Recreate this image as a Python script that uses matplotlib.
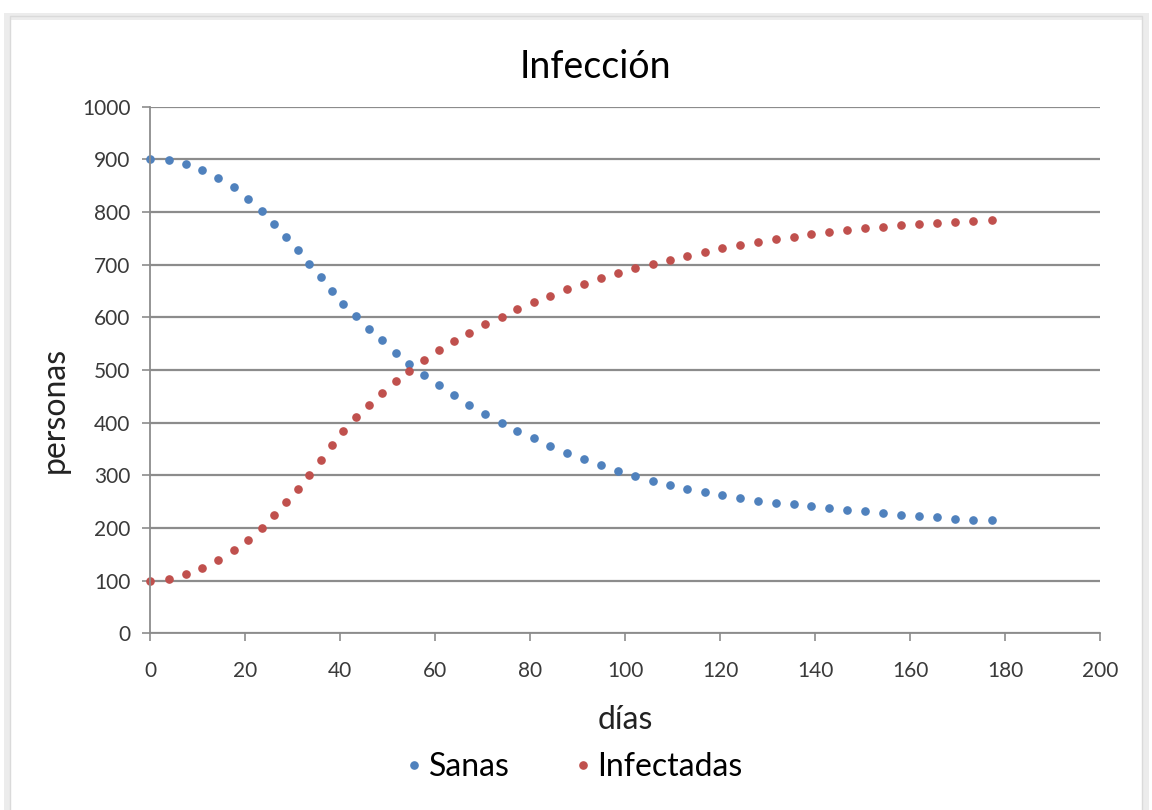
import matplotlib
matplotlib.use("Agg")
from matplotlib import pyplot as plt
from matplotlib.patches import Rectangle

# Data (dias, personas)
dias = [0, 3.9, 7.5, 11.0, 14.4, 17.6, 20.6, 23.5, 26.1, 28.6,
        31.1, 33.5, 36.0, 38.3, 40.7, 43.3, 46.0, 48.9, 51.7, 54.6,
        57.6, 60.8, 64.0, 67.2, 70.5, 74.0, 77.3, 80.8, 84.2, 87.7,
        91.3, 94.9, 98.5, 102.1, 105.8, 109.4, 113.1, 116.8, 120.5, 124.2,
        128.0, 131.7, 135.5, 139.2, 143.0, 146.7, 150.5, 154.3, 158.0, 161.8,
        165.6, 169.4, 173.2, 177.2]
sanas = [900, 899, 892, 880, 865, 847, 825, 802, 778, 752,
         727, 701, 676, 650, 626, 602, 578, 557, 533, 512,
         491, 471, 452, 434, 417, 400, 385, 370, 356, 343,
         331, 320, 309, 299, 290, 282, 274, 268, 262, 257,
         252, 248, 245, 242, 238, 235, 232, 228, 225, 223,
         220, 218, 216, 215]
infectadas = [100, 103, 112, 124, 139, 158, 178, 200, 224, 249,
              275, 301, 330, 357, 384, 410, 434, 457, 479, 499,
              519, 538, 555, 571, 587, 601, 616, 629, 641, 653,
              664, 674, 684, 693, 702, 709, 717, 725, 731, 737,
              743, 748, 753, 758, 762, 765, 769, 772, 775, 777,
              779, 781, 782, 784]

x_ticks = list(range(0, 201, 20))
y_ticks = list(range(0, 1001, 100))

plt.rcParams['font.family'] = ['Lato', 'DejaVu Sans']

fig = plt.figure(figsize=(11.52, 8.1), dpi=100)
fig.patch.set_facecolor('white')

# chart frame with soft shadow
fig.patches.append(Rectangle((0.006, -0.01), 0.988, 0.99, transform=fig.transFigure,
                             facecolor='none', edgecolor='#ececec', linewidth=5, zorder=-10))
fig.patches.append(Rectangle((0.009, -0.01), 0.982, 0.99, transform=fig.transFigure,
                             facecolor='none', edgecolor='#dadada', linewidth=1, zorder=-9))

ax = fig.add_axes([0.1302, 0.2181, 0.8247, 0.6502])
ax.set_facecolor('none')

grid_col = '#8c8c8c'
ax.set_xlim(0, 200)
ax.set_ylim(0, 1000)
ax.set_xticks(x_ticks)
ax.set_yticks(y_ticks)
ax.yaxis.grid(True, color=grid_col, linewidth=1.6)
ax.set_axisbelow(True)
for side in ['top', 'right']:
    ax.spines[side].set_visible(False)
for side in ['left', 'bottom']:
    ax.spines[side].set_color(grid_col)
    ax.spines[side].set_linewidth(1.3)
ax.tick_params(axis='both', colors=grid_col, labelcolor='#3a3a3a', labelsize=15,
               length=6, width=1.2, direction='out')
ax.tick_params(axis='x', pad=14)
ax.tick_params(axis='y', pad=8)

ax.plot(dias, sanas, linestyle='none', marker='o', markersize=5.2,
        color='#4F81BD', markeredgecolor='#4F81BD', label='Sanas', clip_on=False)
ax.plot(dias, infectadas, linestyle='none', marker='o', markersize=5.2,
        color='#C0504D', markeredgecolor='#C0504D', label='Infectadas', clip_on=False)

fig.text(0.517, 0.917, 'Infección', fontsize=27, color='black', ha='center', va='center')
ax.set_xlabel('días', fontsize=23, color='#222222')
ax.xaxis.set_label_coords(0.5, -0.136)
ax.set_ylabel('personas', fontsize=23, color='#222222')
ax.yaxis.set_label_coords(-0.084, 0.424)

fig.legend(loc='center', bbox_to_anchor=(0.4965, 0.053), ncol=2, frameon=False,
           fontsize=23, markerscale=1.0, handletextpad=0.05, columnspacing=1.9,
           handlelength=0.8)

fig.savefig('out.png', dpi=100, facecolor='white')
